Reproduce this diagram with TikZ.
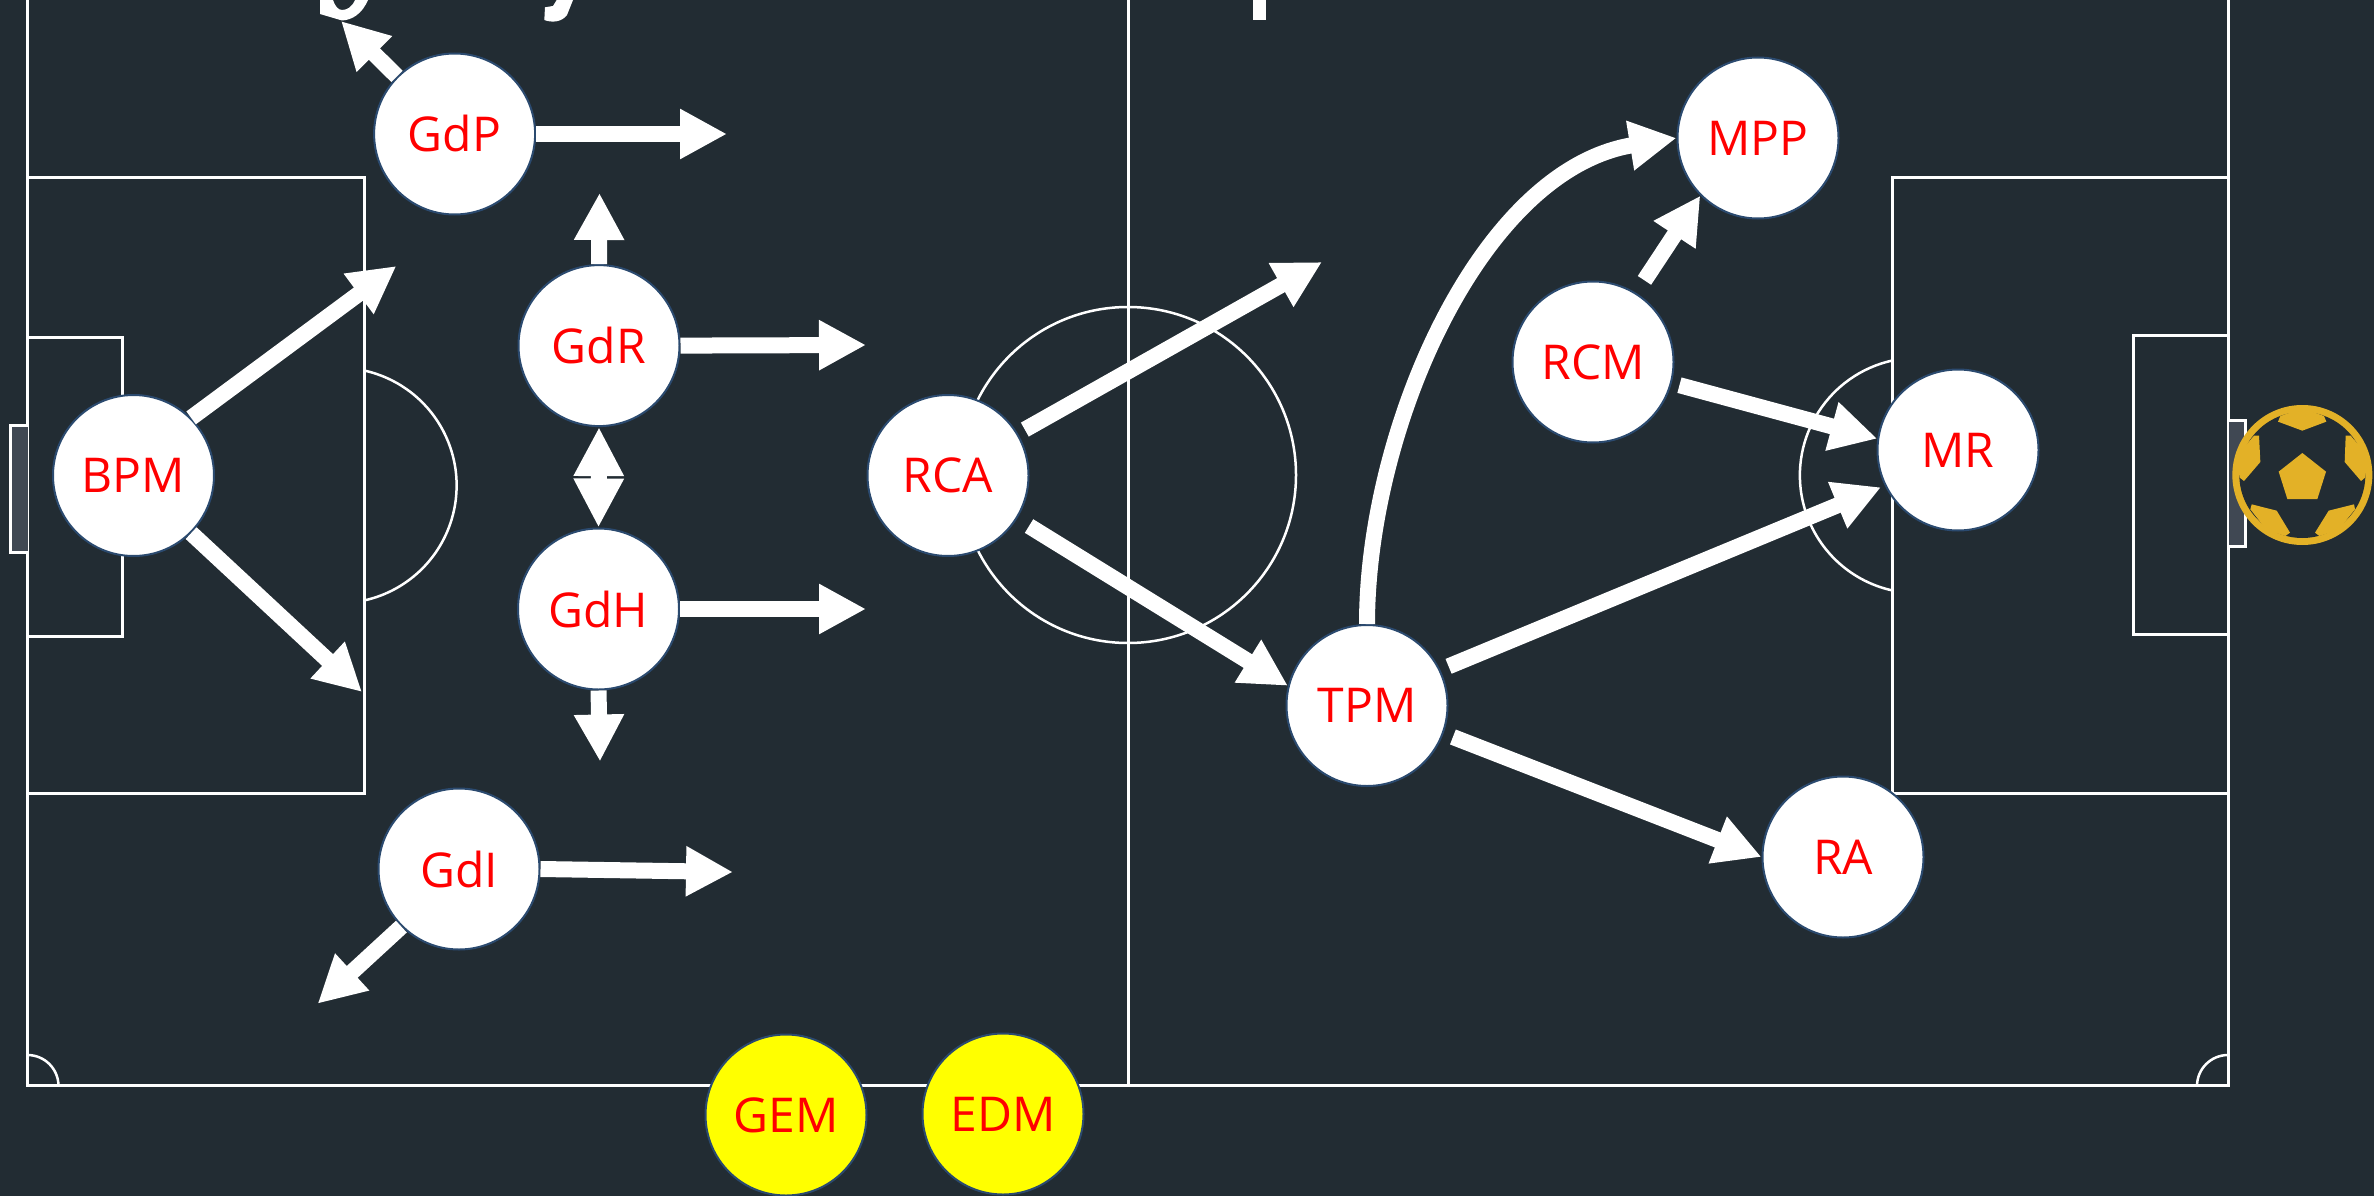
\documentclass[tikz,border=0pt]{standalone}
\usepackage{fontspec}
\setmainfont{Open Sans}
\usetikzlibrary{arrows.meta}
\definecolor{pitchbg}{HTML}{222C33}
\definecolor{goalgrey}{HTML}{404853}
\definecolor{ballgold}{HTML}{E3B127}
\definecolor{ringblue}{HTML}{2B4A6F}
\definecolor{substyellow}{HTML}{FFFF00}
\tikzset{
  pitchline/.style={draw=white,line width=3pt},
  thinline/.style={draw=white,line width=2.5pt},
  goalbox/.style={draw=white,line width=3pt,fill=goalgrey},
  player/.style={circle,minimum size=161pt,inner sep=0pt,draw=ringblue,line width=2pt,fill=white,text=red,font=\fontsize{48}{48}\selectfont},
  subst/.style={player,fill=substyellow},
  run/.style={draw=white,line width=16pt,-{Triangle[length=47pt,width=47pt,sep=0pt]}},
  runboth/.style={draw=white,line width=16pt,{Triangle[length=49pt,width=47pt,sep=0pt]}-{Triangle[length=49pt,width=47pt,sep=0pt]}},
  gold/.style={fill=ballgold,draw=none},
  titlebit/.style={fill=white,draw=none}
}
\begin{document}
\begin{tikzpicture}[x=1pt,y=-1pt]
\useasboundingbox (0,0) rectangle (2374,1196);
\fill[pitchbg] (0,0) rectangle (2374,1196);
% cut-off title fragments
\fill[titlebit] (320,0) -- (320,14) -- (342,20.5) .. controls (352,20) and (362,14) .. (368,0) -- (355,0) .. controls (352,7) and (347,10) .. (342,10) .. controls (338,10) and (335,6) .. (333,0) -- cycle;
\fill[titlebit] (545,7.3) -- (544.3,20) .. controls (552,23) and (562,22) .. (567,15) -- (573,0) -- (556.7,0) -- (553,6) -- cycle;
\fill[titlebit] (1253,0) rectangle (1266,20);
% pitch
\draw[pitchline] (27.5,0) -- (27.5,1085) -- (2228,1085) -- (2228,0);
\draw[pitchline] (1128,0) -- (1128,1085);
\draw[pitchline] (27.5,177) -- (364,177) -- (364,793.5) -- (27.5,793.5);
\draw[pitchline] (27.5,337) -- (122.5,337) -- (122.5,636) -- (27.5,636);
\draw[pitchline] (2228,177) -- (1892.5,177) -- (1892.5,793.5) -- (2228,793.5);
\draw[pitchline] (2228,335.7) -- (2133,335.7) -- (2133,634.5) -- (2228,634.5);
\draw[goalbox] (27.5,425.6) -- (10,425.6) -- (10,552) -- (27.5,552);
\draw[goalbox] (2229,420) -- (2245.7,420) -- (2245.7,546) -- (2229,546);
\draw[thinline] (364,370.5) arc[start angle=77.7,end angle=-77.7,radius=117.7pt];
\draw[thinline] (1892.5,360.5) arc[start angle=102.3,end angle=257.7,radius=117.7pt];
\draw[thinline] (1128,475) circle[radius=168pt];
\draw[thinline] (27.5,1055) arc[start angle=90,end angle=0,radius=31pt];
\draw[thinline] (2228,1055) arc[start angle=90,end angle=180,radius=31pt];
% ball
\begin{scope}[shift={(2100,300)},x=0.33333pt,y=-0.33333pt]
\fill[gold] (607,525) circle[radius=70pt];
\fill[pitchbg] (607,525) circle[radius=63pt];
\fill[gold] (607,459) -- (678,515) -- (652,597) -- (562,597) -- (536,515) -- cycle;
\fill[gold] (541,348) -- (534,365) -- (607,392) -- (679,365) -- (672,348) -- (607,325) -- cycle;
\fill[gold] (752,407) -- (737,407) -- (734,486) -- (783,543) -- (795,533) -- (805,470) -- cycle;
\fill[gold] (462,407) -- (477,407) -- (481,486) -- (432,543) -- (419,533) -- (409,470) -- cycle;
\fill[gold] (451,628) -- (455,613) -- (530,632) -- (570,698) -- (556,708) -- (500,690) -- cycle;
\fill[gold] (765,628) -- (762,613) -- (686,632) -- (645,698) -- (658,708) -- (715,690) -- cycle;
\end{scope}
% players
\node[player] (BPM) at (133.5,475.5) {BPM};
\node[player] (GdP) at (454.6,134) {GdP};
\node[player] (GdR) at (599,345.6) {GdR};
\node[player] (GdH) at (598.5,609) {GdH};
\node[player] (GdI) at (459,869) {GdI};
\node[player] (RCA) at (948,475.5) {RCA};
\node[player] (TPM) at (1367,705.5) {TPM};
\node[player] (MPP) at (1758,138) {MPP};
\node[player] (RCM) at (1593,362) {RCM};
\node[player] (MR) at (1958,450) {MR};
\node[player] (RA) at (1843,857) {RA};
\node[subst] (GEM) at (786,1115) {GEM};
\node[subst] (EDM) at (1003,1114) {EDM};
% free arrow ends
\coordinate (bpmUp) at (396.4,266);
\coordinate (bpmDown) at (362,692);
\coordinate (gdpOut) at (341,21);
\coordinate (gdpFwd) at (727,134);
\coordinate (gdrUp) at (599.5,193);
\coordinate (gdrFwd) at (866,345);
\coordinate (gdhFwd) at (866,609);
\coordinate (gdhDown) at (600,761.5);
\coordinate (gdiFwd) at (733,872);
\coordinate (gdiOut) at (317.6,1003.7);
\coordinate (rcaUp) at (1322,262);
% connectors
\draw[run] (BPM.45) -- (bpmUp);
\draw[run] (BPM.-45) -- (bpmDown);
\draw[run] (GdP.135) -- (gdpOut);
\draw[run] (GdP.east) -- (gdpFwd);
\draw[run] (GdR.north) -- (gdrUp);
\draw[run] (GdR.east) -- (gdrFwd);
\draw[runboth] (GdR.south) -- (GdH.north);
\draw[run] (GdH.east) -- (gdhFwd);
\draw[run] (GdH.south) -- (gdhDown);
\draw[run] (GdI.east) -- (gdiFwd);
\draw[run] (GdI.-135) -- (gdiOut);
\draw[run,shorten <=8pt] (RCA.31) -- (rcaUp);
\draw[run,shorten <=14pt] (RCA.-32) -- (TPM.166);
\draw[run] (TPM.north) .. controls (1367,430) and (1480,170) .. (MPP.west);
\draw[run,shorten <=15pt] (RCM.58) -- (MPP.225);
\draw[run,shorten <=8pt] (RCM.-15) -- (MR.172);
\draw[run,shorten <=9pt,shorten >=4pt] (TPM.26) -- (MR.206);
\draw[run,shorten <=10pt] (TPM.-20) -- (RA.west);
\end{tikzpicture}
\end{document}
